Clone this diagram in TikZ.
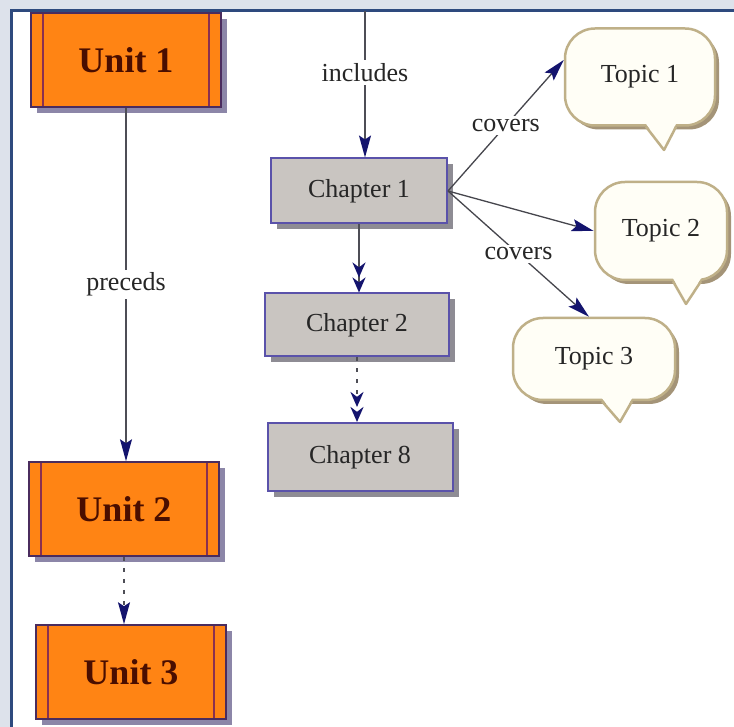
\documentclass[tikz,border=0pt]{standalone}
\usepackage{fontspec}
\setmainfont{Liberation Serif}
\usetikzlibrary{arrows.meta,shadows}
\definecolor{outerbg}{HTML}{DDE2EB}
\definecolor{frameedge}{HTML}{2E4A7E}
\definecolor{unitfill}{HTML}{FF8414}
\definecolor{unitedge}{HTML}{4A2C5E}
\definecolor{unitline}{HTML}{8A3050}
\definecolor{unittext}{HTML}{4A0E00}
\definecolor{unitshadow}{HTML}{8C86A8}
\definecolor{chapfill}{HTML}{C9C5C1}
\definecolor{chapedge}{HTML}{5A52AA}
\definecolor{chapshadow}{HTML}{8E8C94}
\definecolor{topicfill}{HTML}{FFFEF6}
\definecolor{topicedge}{HTML}{BFB088}
\definecolor{topicshadow}{HTML}{A49478}
\definecolor{linkgray}{HTML}{4E4E56}
\definecolor{tipnavy}{HTML}{14146E}

\begin{document}
\begin{tikzpicture}[x=1pt,y=-1pt]
	\tikzset{unit/.style={draw=unitedge,line width=1.5pt,fill=unitfill,minimum width=190pt,minimum height=94pt,text=unittext,font=\fontsize{36}{40}\selectfont\bfseries,drop shadow={shadow xshift=6pt,shadow yshift=-6pt,fill=unitshadow,opacity=1},path picture={\draw[unitline,line width=1.5pt] ([xshift=12pt]path picture bounding box.north west) -- ([xshift=12pt]path picture bounding box.south west) ([xshift=-12pt]path picture bounding box.north east) -- ([xshift=-12pt]path picture bounding box.south east);}}}
	\tikzset{chapter/.style={draw=chapedge,line width=2pt,fill=chapfill,minimum width=176pt,minimum height=65pt,text=black!85,font=\fontsize{26}{30}\selectfont,drop shadow={shadow xshift=6pt,shadow yshift=-6pt,fill=chapshadow,opacity=1}}}
	\tikzset{topic/.style={rounded corners=30pt,draw=topicedge,line width=2.5pt,fill=topicfill,text=black!85,font=\fontsize{26}{30}\selectfont,drop shadow={shadow xshift=4pt,shadow yshift=-4pt,fill=topicshadow,opacity=1}}}
	\tikzset{tailfill/.style={fill=topicfill},tailline/.style={draw=topicedge,line width=2.5pt,line join=round}}
	\tikzset{link/.style={draw=linkgray,line width=1.5pt},thinlink/.style={draw=linkgray!90!black,line width=1.3pt}}
	\tikzset{navytip/.style={-{Stealth[length=22pt,width=12pt,inset=4pt,color=tipnavy]}},opentip/.style={-{Stealth[open,length=15pt,width=13pt,color=tipnavy,line width=2.5pt]Stealth[open,length=15pt,width=13pt,color=tipnavy,line width=2.5pt]}}}
	\tikzset{lbl/.style={fill=white,inner sep=3pt,text=black!85,font=\fontsize{26}{30}\selectfont}}
	\useasboundingbox (0,0) rectangle (734,727);
	\clip (0,0) rectangle (734,727);
	\fill[outerbg] (0,0) rectangle (734,727);
	\filldraw[fill=white,draw=frameedge,line width=3pt] (11.5,10.5) rectangle (760,760);
	\node[unit] (u1) at (126,60) {Unit 1};
	\node[unit] (u2) at (124,509) {Unit 2};
	\node[unit] (u3) at (131,672) {Unit 3};
	\node[chapter] (c1) at (359,191) {Chapter 1};
	\node[chapter,minimum width=184pt,minimum height=63pt] (c2) at (357,325) {Chapter 2};
	\node[chapter,minimum width=185pt,minimum height=68pt] (c8) at (360,457) {Chapter 8};
	\node[topic,minimum width=150pt,minimum height=97pt] (t1) at (640,77) {Topic 1};
	\node[topic,minimum width=132pt,minimum height=98pt] (t2) at (661,231) {Topic 2};
	\node[topic,minimum width=162pt,minimum height=82pt] (t3) at (594,359) {Topic 3};
	\coordinate (t1tip) at (664,150);
	\coordinate (t2tip) at (686,304);
	\coordinate (t3tip) at (620,422);
	\fill[tailfill] ([xshift=6pt,yshift=3pt]t1.south) -- (t1tip) -- ([xshift=36pt,yshift=3pt]t1.south) -- cycle;
	\draw[tailline] ([xshift=6pt]t1.south) -- (t1tip) -- ([xshift=36pt]t1.south);
	\fill[tailfill] ([xshift=12pt,yshift=3pt]t2.south) -- (t2tip) -- ([xshift=40pt,yshift=3pt]t2.south) -- cycle;
	\draw[tailline] ([xshift=12pt]t2.south) -- (t2tip) -- ([xshift=40pt]t2.south);
	\fill[tailfill] ([xshift=8pt,yshift=3pt]t3.south) -- (t3tip) -- ([xshift=38pt,yshift=3pt]t3.south) -- cycle;
	\draw[tailline] ([xshift=8pt]t3.south) -- (t3tip) -- ([xshift=38pt]t3.south);
	\coordinate (incl) at (365,11);
	\draw[link,navytip] (u1.south) -- node[lbl]{preceds} (u1.south |- u2.north);
	\draw[link,navytip,dash pattern=on 4pt off 7pt] (u2.south) -- (u2.south |- u3.north);
	\draw[link,navytip] (incl) -- node[lbl,pos=0.42]{includes} (incl |- c1.north);
	\draw[link,opentip] (c1.south) -- (c1.south |- c2.north);
	\draw[link,opentip,dash pattern=on 4pt off 7pt] (c2.south) -- (c2.south |- c8.north);
	\draw[thinlink,navytip] (c1.east) -- node[lbl]{covers} ([yshift=17pt]t1.west);
	\draw[thinlink,navytip] (c1.east) -- (t2.west);
	\draw[thinlink,navytip] (c1.east) -- node[lbl]{covers} ([xshift=-5pt]t3.north);
\end{tikzpicture}
\end{document}
